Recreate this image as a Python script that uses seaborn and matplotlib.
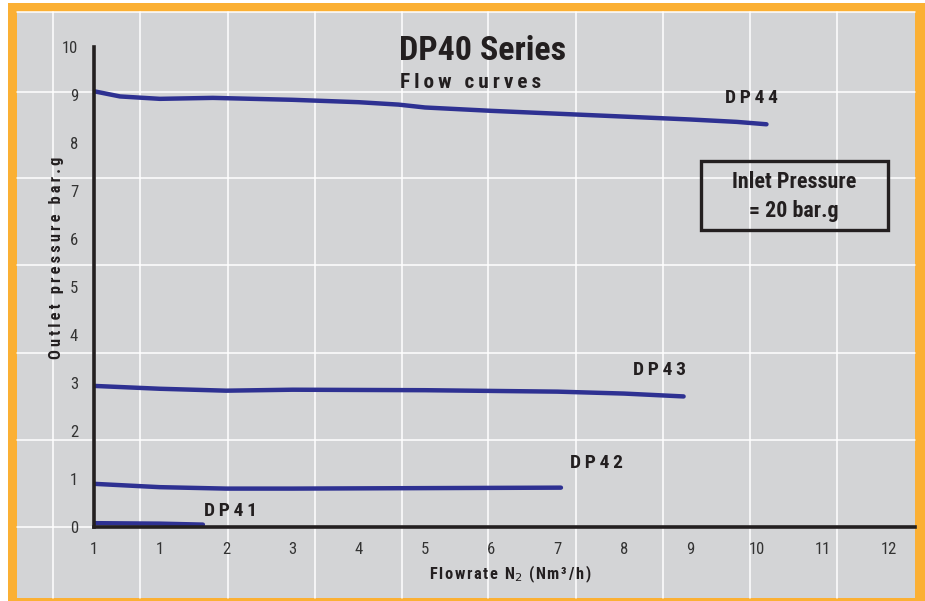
import matplotlib
matplotlib.use("Agg")
import matplotlib.pyplot as plt
import pandas as pd
import seaborn as sns
from matplotlib.patches import Rectangle
from matplotlib.lines import Line2D

# flow curves (x = flowrate Nm3/h, y = outlet pressure bar.g)
dp44_x = [0, 0.4, 1, 1.8, 3, 4, 4.6, 5, 6, 7, 8, 9, 9.7, 10.15]
dp44_y = [9.08, 8.97, 8.92, 8.94, 8.9, 8.85, 8.8, 8.74, 8.67, 8.61, 8.55, 8.49, 8.44, 8.39]
dp43_x = [0, 1, 2, 3, 5, 7, 8, 8.9]
dp43_y = [2.94, 2.88, 2.84, 2.86, 2.85, 2.82, 2.78, 2.72]
dp42_x = [0, 1, 2, 3, 5, 7.05]
dp42_y = [0.9, 0.83, 0.8, 0.8, 0.81, 0.82]
dp41_x = [0, 1, 1.65]
dp41_y = [0.08, 0.07, 0.05]

series = ["DP41", "DP42", "DP43", "DP44"]
x_ticks = [0, 1, 2, 3, 4, 5, 6, 7, 8, 9, 10, 11, 12]
x_labels = ["1", "1", "2", "3", "4", "5", "6", "7", "8", "9", "10", "11", "12"]
y_ticks = [0, 1, 2, 3, 4, 5, 6, 7, 8, 9, 10]

frames = []
for name, xs, ys in zip(series, [dp41_x, dp42_x, dp43_x, dp44_x], [dp41_y, dp42_y, dp43_y, dp44_y]):
    frames.append(pd.DataFrame({"flow": xs, "pressure": ys, "model": name}))
df = pd.concat(frames, ignore_index=True)

sns.set_style("white")
plt.rcParams["font.family"] = ["Roboto Condensed", "DejaVu Sans"]

W, H = 925, 601
INK = "#231f20"
fig = plt.figure(figsize=(9.25, 6.01), dpi=100, facecolor="white")


def px(x, y):
    return x / W, 1 - y / H


def spaced(s, sp="\u2009"):
    # letter-spaced text like the printed chart
    return sp.join(s)


# orange frame and grey panel with its own white grid
fig.add_artist(Rectangle(px(8, 601), (925 - 8) / W, (601 - 3) / H,
                         transform=fig.transFigure, facecolor="#fbb034", edgecolor="none", zorder=-3))
fig.add_artist(Rectangle(px(17, 598), (915 - 17) / W, (598 - 12) / H,
                         transform=fig.transFigure, facecolor="#d3d4d6", edgecolor="none", zorder=-2))
for gx in [53, 140, 228, 315, 402, 488, 576, 663, 750, 837]:
    fig.add_artist(Line2D([gx / W, gx / W], [1 - 598 / H, 1 - 12 / H], transform=fig.transFigure,
                          color="white", lw=1.1, zorder=-1))
for gy in [12, 92, 178, 265, 353, 440, 527]:
    fig.add_artist(Line2D([17 / W, 915 / W], [1 - gy / H, 1 - gy / H], transform=fig.transFigure,
                          color="white", lw=1.1, zorder=-1))

ax = fig.add_axes([93.5 / W, 1 - 527 / H, (915 - 93.5) / W, (527 - 47) / H])
ax.set_facecolor("none")

sns.lineplot(data=df, x="flow", y="pressure", units="model", estimator=None,
             color="#2e3192", lw=3.2, sort=False, ax=ax, legend=False)

ax.set_xlim(0, 12.39)
ax.set_ylim(0, 10)
ax.set_xticks(x_ticks)
ax.set_xticklabels(x_labels)
ax.set_yticks(y_ticks)
for s in ["top", "right"]:
    ax.spines[s].set_visible(False)
for s in ["left", "bottom"]:
    ax.spines[s].set_color(INK)
    ax.spines[s].set_linewidth(2.6)
ax.tick_params(axis="y", direction="out", length=5, width=1.3, color=INK,
               labelsize=12, labelcolor="#333333", pad=6)
ax.tick_params(axis="x", direction="inout", length=8, width=1.3, color=INK,
               labelsize=12, labelcolor="#333333", pad=7)
ax.set_xlabel("")
ax.set_ylabel("")

# curve labels
lab = dict(fontsize=14, fontweight="bold", color=INK)
ax.text(9.52, 8.93, spaced("DP44"), ha="left", va="center", **lab)
ax.text(8.13, 3.28, spaced("DP43"), ha="left", va="center", **lab)
ax.text(7.18, 1.34, spaced("DP42"), ha="left", va="center", **lab)
ax.text(1.66, 0.33, spaced("DP41"), ha="left", va="center", **lab)

# titles
fig.text(399 / W, 1 - 51 / H, "DP40 Series", ha="left", va="center",
         fontsize=24.5, fontweight="bold", color=INK)
fig.text(400 / W, 1 - 82 / H, spaced("Flow curves"), ha="left", va="center",
         fontsize=15.3, fontweight="bold", color=INK)

# inlet pressure box
fig.add_artist(Rectangle(px(701, 230), (888 - 701) / W, (230 - 161) / H, transform=fig.transFigure,
                         facecolor="none", edgecolor=INK, lw=2.4))
fig.text(794 / W, 1 - 182 / H, "Inlet Pressure", ha="center", va="center",
         fontsize=15.8, fontweight="bold", color=INK)
fig.text(794 / W, 1 - 211 / H, "= 20 bar.g", ha="center", va="center",
         fontsize=15.8, fontweight="bold", color=INK)

# axis titles
fig.text(57 / W, 1 - 258 / H, spaced("Outlet pressure bar.g"), rotation=90, ha="center", va="center",
         fontsize=11.8, fontweight="bold", color=INK)
fig.text(510 / W, 1 - 574 / H, spaced("Flowrate N", "\u200a") + "$_2$" + spaced(" (Nm³/h)", "\u200a"),
         ha="center", va="center", fontsize=11.8, fontweight="bold", color=INK)

fig.savefig("out.png", dpi=100, facecolor="white")
